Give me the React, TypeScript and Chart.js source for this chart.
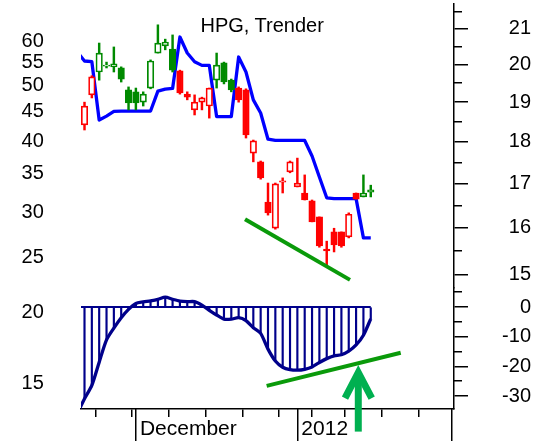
import React, { useEffect, useRef } from 'react';
import { Chart, registerables } from 'chart.js';

Chart.register(...registerables);

const FONT = '"Liberation Sans", Arial, sans-serif';

// ---- data (trading-day index 0..39) ----
const openP = [18.42, 19.19, 19.80, 19.96, 19.94, 19.91, 19.32, 19.27, 19.00, 19.37,
  20.32, 20.52, 20.43, 19.83, 19.21, 18.80, 19.00, 18.90, 19.58, 20.05,
  19.58, 19.37, 19.32, 17.72, 17.51, 16.57, 15.99, 17.03, 17.27, 16.92,
  16.78, 16.60, 16.24, 15.54, 15.91, 15.91, 15.80, 16.78, 16.69, 16.80];
const highP = [19.00, 19.70, 20.60, 20.07, 20.49, 19.94, 19.40, 19.37, 19.27, 20.13,
  21.12, 20.71, 20.83, 19.85, 19.27, 19.19, 19.13, 19.37, 20.32, 20.07,
  19.61, 19.40, 19.35, 18.04, 17.53, 17.01, 17.01, 17.13, 17.53, 17.60,
  17.20, 16.62, 16.24, 15.71, 15.99, 15.91, 16.33, 16.78, 17.20, 16.96];
const lowP = [18.29, 19.11, 19.58, 19.91, 19.80, 19.53, 18.80, 18.80, 18.90, 19.35,
  20.32, 20.41, 19.80, 19.21, 19.06, 18.67, 18.80, 18.59, 19.37, 19.48,
  19.27, 19.00, 18.09, 17.51, 17.10, 16.28, 15.97, 16.78, 17.25, 16.92,
  16.62, 16.13, 15.58, 15.21, 15.48, 15.58, 15.78, 16.64, 16.69, 16.69];
const closeP = [18.90, 19.67, 20.32, 19.99, 20.02, 19.61, 18.98, 18.98, 19.21, 20.10,
  20.60, 20.63, 19.85, 19.24, 19.13, 19.00, 19.11, 19.37, 19.99, 19.53,
  19.32, 19.06, 18.17, 18.02, 17.13, 16.33, 16.99, 17.06, 17.51, 17.01,
  16.62, 16.13, 15.61, 15.50, 15.63, 15.61, 16.30, 16.64, 16.78, 16.85];
// Trender values for day index -1..39
const trender = [20.35, 20.10, 20.08, 18.54, 18.64, 18.76, 18.77, 18.77, 18.77, 18.77, 18.77,
  19.29, 19.34, 19.36, 20.77, 20.32, 20.08, 19.98, 19.98, 18.63, 18.63,
  18.63, 20.21, 19.80, 19.06, 18.72, 18.06, 18.03, 18.03, 18.03, 18.03,
  18.03, 17.65, 17.15, 16.67, 16.65, 16.65, 16.65, 16.65, 15.78, 15.78];
// Oscillator values for day index -1..39
const osc = [-36, -30.9, -26.4, -18.6, -11.1, -7.1, -3.6, -0.8, 1.2, 1.7, 2.1,
  2.6, 3.3, 2.6, 2.0, 1.8, 1.8, 0.6, -1.1, -2.7, -4.1,
  -4.1, -3.6, -4.6, -7.0, -8.9, -14.2, -18.2, -20.3, -21.1, -21.3,
  -21.0, -20.2, -18.7, -17.4, -16.5, -16.1, -14.9, -12.8, -9.5, -4.0];

// ---- ticks / labels ----
const leftTicks = [60, 55, 50, 45, 40, 35, 30, 25, 20, 15];
const priceTicks = [21, 20, 19, 18, 17, 16, 15];
const priceMinorTicks = [21.5, 20.5, 19.5, 18.5, 17.5, 16.5, 15.5];
const oscTicks = [0, -10, -20, -30];
const oscMinorTicks = [5, -5, -15, -25];
const weekTicks = [4, 9, 14, 19, 24, 29, 33, 38, 43, 48];
const monthTicks = [7, 29, 50.07];
const monthLabels = ['December', '2012', ''];

// ---- drawn annotations (data coordinates) ----
const trendUpperX = [21.87, 36.17];
const trendUpperY = [16.19, 14.9];
const trendLowerX = [24.82, 43.08];
const trendLowerY = [-26.6, -15.4];
const arrowShaftX = [37.3, 37.3];
const arrowShaftY = [-42, -23.5];
const arrowHeadX = [35.49, 37.3, 39.13];
const arrowHeadY = [-30.7, -22.1, -30.7];

// ---- axis ranges ----
const X_MIN = -0.477, X_MAX = 50.34;
const P_MIN_FULL = 12.49, P_MAX = 21.73;   // price scale over the whole plot height
const P_MIN_PANEL = 14.735;                // price panel bottom (stacked axis)
const O_MIN = -34.38, O_MAX_FULL = 102.1;  // oscillator scale over the whole plot height
const O_MAX_PANEL = 6.404;                 // oscillator panel top (stacked axis)
const L_MIN = 13.5, L_MAX = 69.71;
const PRICE_WEIGHT = 284, OSC_WEIGHT = 121;

const RED = '#ff0000';
const GREEN = '#008a00';
const NAVY = '#00008b';
const LINE_GREEN = '#0a9a0a';
const ARROW_GREEN = '#00b050';

const days = openP.map((_, i) => i);
const pts = (xs: number[], ys: number[]) => xs.map((x, k) => ({ x, y: ys[k] }));

const zeroPad = (s: any) => {
  s.paddingLeft = 0; s.paddingRight = 0; s.paddingTop = 0; s.paddingBottom = 0;
};
const fixW = (w: number) => (s: any) => { s.width = w; zeroPad(s); };
const fixH = (h: number) => (s: any) => { s.height = h; zeroPad(s); };
const setTicks = (vals: number[]) => (s: any) => { s.ticks = vals.map((v) => ({ value: v })); };

export default function App() {
  const ref = useRef<HTMLCanvasElement>(null);

  useEffect(() => {
    const up = days.map((i) => closeP[i] > trender[i + 1]);
    const col = up.map((u) => (u ? GREEN : RED));
    const hollow = days.map((i) => closeP[i] > openP[i]);

    const chartRight = 454;
    const labelRight = 531;
    const rightWidth = labelRight - chartRight;
    const rightPad = 538 - labelRight;

    const tickFont = { family: FONT, size: 20 };
    const rightMajor = (vals: number[], stackWeight: number) => ({
      position: 'right' as const,
      stack: 'r',
      stackWeight,
      weight: 1,
      bounds: 'data' as const,
      afterBuildTicks: setTicks(vals),
      afterFit: fixW(rightWidth),
      border: { display: true, color: '#000', width: 1.5 },
      grid: { drawOnChartArea: false, drawTicks: true, tickLength: 14, lineWidth: 1.5, color: '#000' },
      ticks: {
        autoSkip: false, crossAlign: 'far' as const,
        font: tickFont, color: '#000', callback: (v: any) => String(v),
      },
    });
    const rightMinor = (vals: number[]) => ({
      position: 'right' as const,
      weight: 0,
      bounds: 'data' as const,
      afterBuildTicks: setTicks(vals),
      afterFit: fixW(0),
      border: { display: false },
      grid: { drawOnChartArea: false, drawTicks: true, tickLength: 8, lineWidth: 1.5, color: '#000' },
      ticks: { autoSkip: false, font: tickFont, callback: () => '' },
    });

    const chart = new Chart(ref.current!, {
      type: 'line',
      data: {
        datasets: [
          {
            type: 'line', label: 'Trender', xAxisID: 'x', yAxisID: 'yP',
            data: trender.map((v, k) => ({ x: k - 1, y: v })),
            borderColor: '#0000ff', borderWidth: 3.3, pointRadius: 0, tension: 0,
            borderJoinStyle: 'round', order: 10,
          },
          {
            type: 'bar', label: 'wicks', xAxisID: 'x', yAxisID: 'yP',
            data: days.map((i) => ({ x: i, y: [lowP[i], highP[i]] })) as any,
            backgroundColor: col, borderWidth: 0, barThickness: 1.8, grouped: false, order: 9,
          },
          {
            type: 'bar', label: 'bodies', xAxisID: 'x', yAxisID: 'yP',
            data: days.map((i) => ({ x: i, y: [openP[i], closeP[i]] })) as any,
            backgroundColor: days.map((i) => (hollow[i] ? '#ffffff' : col[i])),
            borderColor: col, borderWidth: 1.7, borderSkipped: false,
            barThickness: 6.5, grouped: false, order: 8,
          },
          {
            type: 'bar', label: 'hatch', xAxisID: 'x', yAxisID: 'yO',
            data: days.map((i) => ({ x: i, y: osc[i + 1] })) as any,
            backgroundColor: NAVY, borderWidth: 0, barThickness: 1.5, grouped: false, order: 7,
          },
          {
            type: 'line', label: 'zero', xAxisID: 'x', yAxisID: 'yO',
            data: pts([-1, days[days.length - 1]], [0, 0]),
            borderColor: NAVY, borderWidth: 2, pointRadius: 0, order: 6,
          },
          {
            type: 'line', label: 'osc', xAxisID: 'x', yAxisID: 'yO',
            data: osc.map((v, k) => ({ x: k - 1, y: v })),
            borderColor: NAVY, borderWidth: 3.3, pointRadius: 0, tension: 0.25,
            borderJoinStyle: 'round', order: 5,
          },
          {
            type: 'line', label: 'trendUpper', xAxisID: 'x', yAxisID: 'yP',
            data: pts(trendUpperX, trendUpperY),
            borderColor: LINE_GREEN, borderWidth: 4, pointRadius: 0, order: 4,
          },
          {
            type: 'line', label: 'trendLower', xAxisID: 'x', yAxisID: 'yO',
            data: pts(trendLowerX, trendLowerY),
            borderColor: LINE_GREEN, borderWidth: 4, pointRadius: 0, order: 3,
          },
          {
            type: 'line', label: 'arrowShaft', xAxisID: 'x', yAxisID: 'yO',
            data: pts(arrowShaftX, arrowShaftY), clip: false as any,
            borderColor: ARROW_GREEN, borderWidth: 7, pointRadius: 0, borderCapStyle: 'butt', order: 2,
          },
          {
            type: 'line', label: 'arrowHead', xAxisID: 'x', yAxisID: 'yO',
            data: pts(arrowHeadX, arrowHeadY), clip: false as any,
            borderColor: ARROW_GREEN, borderWidth: 7, pointRadius: 0, borderJoinStyle: 'miter',
            borderCapStyle: 'butt', order: 1,
          },
        ] as any,
      },
      options: {
        responsive: false,
        animation: false,
        events: [],
        layout: { padding: { left: 0, right: rightPad, top: 4, bottom: 0 } },
        plugins: { legend: { display: false }, tooltip: { enabled: false }, title: { display: false } },
        scales: {
          x: {
            type: 'linear', position: 'bottom', weight: 0, min: X_MIN, max: X_MAX, bounds: 'data', offset: false,
            afterBuildTicks: setTicks(weekTicks), afterFit: fixH(0),
            grid: { drawOnChartArea: false, tickLength: 8, lineWidth: 1.5, color: '#000' },
            border: { display: true, color: '#000', width: 1.5 },
            ticks: { autoSkip: false, maxRotation: 0, minRotation: 0, callback: () => '' },
          },
          xM: {
            type: 'linear', position: 'bottom', weight: 1, min: X_MIN, max: X_MAX, bounds: 'data', offset: false,
            afterBuildTicks: setTicks(monthTicks), afterFit: fixH(32),
            grid: { drawOnChartArea: false, tickLength: 32, lineWidth: 1.5, color: '#000' },
            border: { display: false },
            ticks: {
              autoSkip: false, maxRotation: 0, minRotation: 0, align: 'start', labelOffset: 4,
              padding: -24.2, font: { family: FONT, size: 21 }, color: '#000',
              callback: (_v: any, idx: number) => monthLabels[idx] ?? '',
            },
          },
          yL: {
            type: 'logarithmic', position: 'left', min: L_MIN, max: L_MAX, bounds: 'data',
            afterBuildTicks: setTicks(leftTicks), afterFit: fixW(81),
            grid: { display: false, drawTicks: false, tickLength: 0 },
            border: { display: false },
            ticks: {
              autoSkip: false, padding: 37.2, crossAlign: 'near', font: tickFont, color: '#000',
              callback: (v: any) => String(v),
            },
          },
          yPm: { type: 'logarithmic', min: P_MIN_FULL, max: P_MAX, ...rightMinor(priceMinorTicks) },
          yOm: { type: 'linear', min: O_MIN, max: O_MAX_FULL, ...rightMinor(oscMinorTicks) },
          yP: {
            type: 'logarithmic', min: P_MIN_PANEL, max: P_MAX,
            ...rightMajor(priceTicks, PRICE_WEIGHT),
          },
          yO: {
            type: 'linear', min: O_MIN, max: O_MAX_PANEL,
            ...rightMajor(oscTicks, OSC_WEIGHT),
          },
        } as any,
      },
    });
    return () => chart.destroy();
  }, []);

  return (
    <div style={{ position: 'absolute', left: 0, top: 0, width: 538, height: 441, background: '#fff' }}>
      <canvas ref={ref} width={538} height={441} style={{ display: 'block' }} />
      <div
        style={{
          position: 'absolute', left: 200.5, top: 15, font: `20px ${FONT}`,
          lineHeight: '20px', whiteSpace: 'nowrap', color: '#000',
        }}
      >
        HPG, Trender
      </div>
    </div>
  );
}
